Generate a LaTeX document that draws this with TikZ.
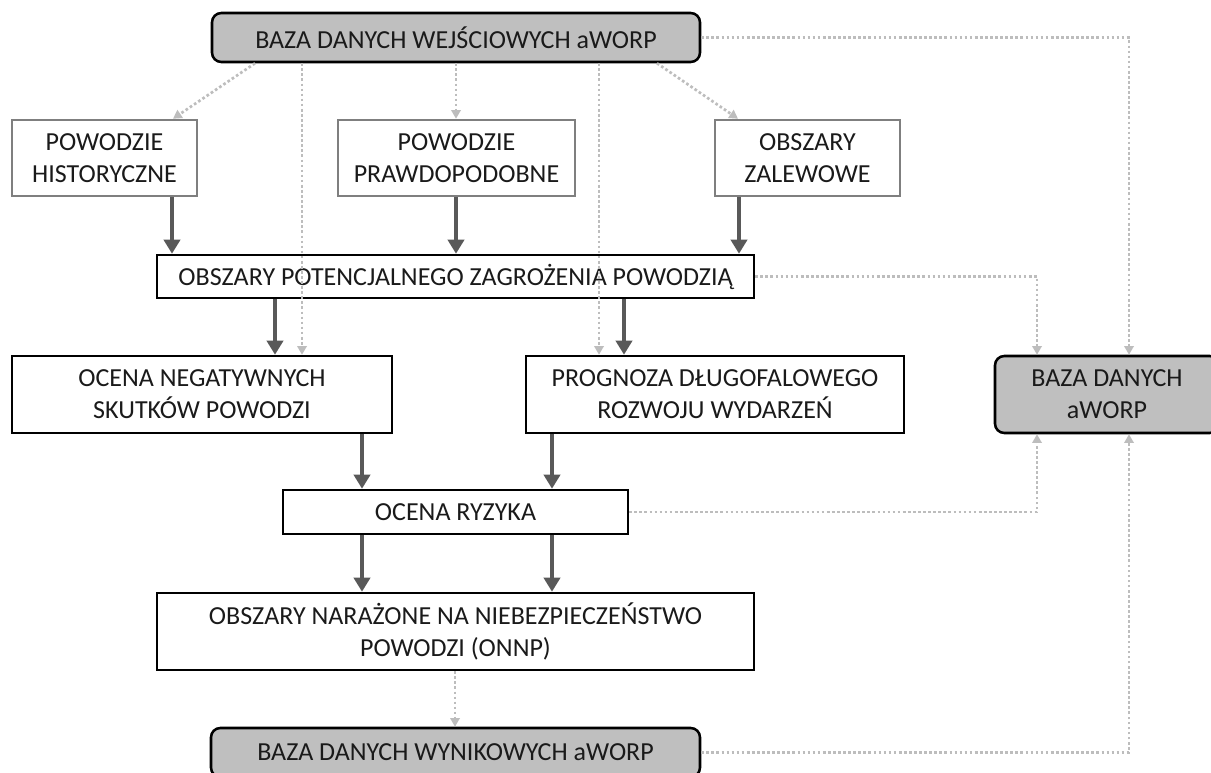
\documentclass[tikz,border=0pt]{standalone}
\usepackage{fontspec}
\setmainfont{Carlito}
\usetikzlibrary{arrows.meta,calc}
\definecolor{boxgray}{HTML}{BFBFBF}
\definecolor{dotgray}{HTML}{BDBDBD}
\definecolor{arrgray}{HTML}{595959}
\definecolor{edgegray}{HTML}{7F7F7F}
\definecolor{txt}{HTML}{1A1A1A}
\tikzset{
  base/.style={draw, line width=1.9pt, inner sep=0pt, align=center,
    font=\fontsize{19.5}{23.8}\selectfont, text=txt},
  dbbox/.style={base, fill=boxgray, rounded corners=7pt},
  srcbox/.style={base, draw=edgegray, fill=white},
  procbox/.style={base, fill=white},
  flow/.style={draw=arrgray, line width=3.2pt, -{Triangle[length=10.5pt,width=12pt]}},
  link/.style={draw=dotgray, line width=2pt, dash pattern=on 2pt off 1.8pt,
    -{Triangle[length=6.5pt,width=7pt]}}
}
\begin{document}
\begin{tikzpicture}[x=0.75pt,y=-0.75pt]
\useasboundingbox (0,0) rectangle (1211,772);
\fill[white] (0,0) rectangle (1211,772);
% helper x positions
\foreach \xx in {173,255,302,456,599,657,738,172,739,275,624,362,552,455,1037,1129}{
  \coordinate (c\xx) at (\xx,0);
}
% nodes
\node[dbbox, minimum width=366pt, minimum height=36.75pt] (T) at (456,37.5) {BAZA DANYCH WEJŚCIOWYCH aWORP};
\node[srcbox, minimum width=138.75pt, minimum height=57pt] (H) at (104.5,158) {POWODZIE\\HISTORYCZNE};
\node[srcbox, minimum width=177.75pt, minimum height=57pt] (P) at (456.5,158) {POWODZIE\\PRAWDOPODOBNE};
\node[srcbox, minimum width=138.75pt, minimum height=57pt] (Z) at (807.5,158) {OBSZARY\\ZALEWOWE};
\node[procbox, minimum width=447.75pt, minimum height=32.25pt] (OPZ) at (455.5,276.5) {OBSZARY POTENCJALNEGO ZAGROŻENIA POWODZIĄ};
\node[procbox, minimum width=285pt, minimum height=57.75pt] (ONEG) at (202,394.5) {OCENA NEGATYWNYCH\\SKUTKÓW POWODZI};
\node[procbox, minimum width=283.5pt, minimum height=57.75pt] (PROG) at (715,394.5) {PROGNOZA DŁUGOFALOWEGO\\ROZWOJU WYDARZEŃ};
\node[dbbox, minimum width=168pt, minimum height=57.75pt] (R) at (1107,394.5) {BAZA DANYCH\\aWORP};
\node[procbox, minimum width=258.75pt, minimum height=33pt] (ORY) at (455.5,512) {OCENA RYZYKA};
\node[procbox, minimum width=447.75pt, minimum height=57.75pt] (NAR) at (455.5,631.5) {OBSZARY NARAŻONE NA NIEBEZPIECZEŃSTWO\\POWODZI (ONNP)};
\node[dbbox, minimum width=366.75pt, minimum height=36.75pt] (WYN) at (455.5,752.5) {BAZA DANYCH WYNIKOWYCH aWORP};
% thick flows
\draw[flow] (H.south -| c172) -- (OPZ.north -| c172);
\draw[flow] (P.south -| c456) -- (OPZ.north -| c456);
\draw[flow] (Z.south -| c739) -- (OPZ.north -| c739);
\draw[flow] (OPZ.south -| c275) -- (ONEG.north -| c275);
\draw[flow] (OPZ.south -| c624) -- (PROG.north -| c624);
\draw[flow] (ONEG.south -| c362) -- (ORY.north -| c362);
\draw[flow] (PROG.south -| c552) -- (ORY.north -| c552);
\draw[flow] (ORY.south -| c362) -- (NAR.north -| c362);
\draw[flow] (ORY.south -| c552) -- (NAR.north -| c552);
% dotted links
\draw[link] (T.south -| c255) -- (H.north -| c173);
\draw[link] (T.south -| c302) -- (ONEG.north -| c302);
\draw[link] (T.south -| c456) -- (P.north -| c456);
\draw[link] (T.south -| c599) -- (PROG.north -| c599);
\draw[link] (T.south -| c657) -- (Z.north -| c738);
\draw[link] (T.east) -| (R.north -| c1129);
\draw[link] (OPZ.east) -| (R.north -| c1037);
\draw[link] (ORY.east) -| (R.south -| c1037);
\draw[link] (WYN.east) -| (R.south -| c1129);
\draw[link] (NAR.south -| c455) -- (WYN.north -| c455);
\end{tikzpicture}
\end{document}
